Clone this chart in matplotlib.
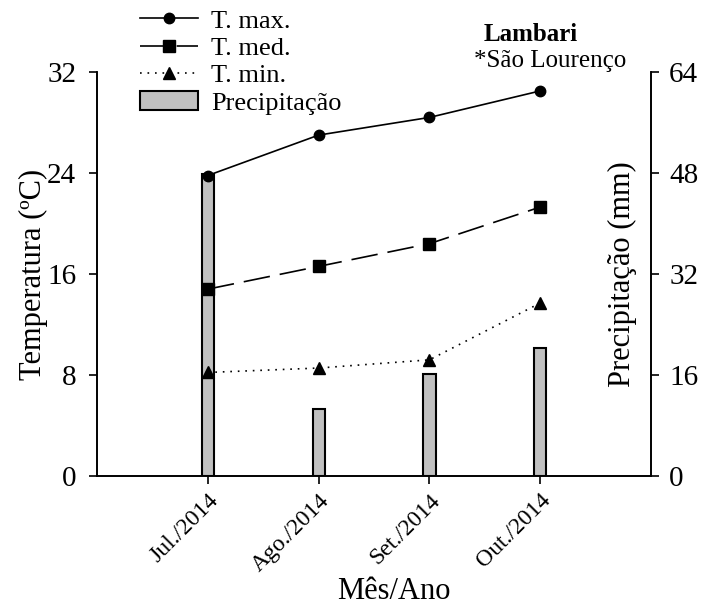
import numpy as np
import matplotlib
matplotlib.use("Agg")
from matplotlib import pyplot as plt

plt.rcParams['font.family'] = ['Liberation Serif', 'DejaVu Serif']

# data
meses = ['Jul./2014', 'Ago./2014', 'Set./2014', 'Out./2014']
t_max = [23.8, 27.0, 28.4, 30.5]
t_med = [14.8, 16.6, 18.4, 21.3]
t_min = [8.2, 8.55, 9.2, 13.7]
precip = [47.8, 10.6, 16.2, 20.3]

x = np.arange(len(meses))

fig = plt.figure(figsize=(7.01, 6.10), dpi=100)
ax = fig.add_axes([0.1384, 0.2197, 0.7903, 0.6623])
ax2 = ax.twinx()

# bars behind the lines
barras = ax2.bar(x, precip, width=0.11, color='#c0c0c0', edgecolor='black',
                 linewidth=1.5, label='Precipitação')
ax.set_zorder(ax2.get_zorder() + 1)
ax.patch.set_visible(False)

l1, = ax.plot(x, t_max, '-', color='black', marker='o', markersize=7.5, lw=1.2, label='T. max.')
l2, = ax.plot(x, t_med, color='black', marker='s', markersize=8, lw=1.2,
              dashes=(16, 6), label='T. med.')
l3, = ax.plot(x, t_min, color='black', marker='^', markersize=8, lw=1.2,
              dashes=(1, 3.5), label='T. min.')

ax.set_xlim(-1.0, 4.0)
ax.set_ylim(0, 32)
ax.set_yticks([0, 8, 16, 24, 32])
ax2.set_ylim(0, 64)
ax2.set_yticks([0, 16, 32, 48, 64])

for a in (ax, ax2):
    a.spines['top'].set_visible(False)
    for s in a.spines.values():
        s.set_linewidth(1.2)
    a.tick_params(direction='out', length=6, width=1.2, labelsize=21)
ax.tick_params(axis='y', pad=9)
ax2.tick_params(axis='y', pad=7)

ax.set_xticks(x)
ax.set_xticklabels(meses, rotation=45, ha='right', rotation_mode='anchor', fontsize=17)
ax.tick_params(axis='x', pad=4)

ax.set_ylabel('Temperatura (ºC)', fontsize=22, ha='center', va='center')
ax.yaxis.set_label_coords(-0.115, 0.5)
ax.set_xlabel('Mês/Ano', fontsize=22, ha='center', va='center')
ax.xaxis.set_label_coords(0.535, -0.285)
ax2.set_ylabel('Precipitação (mm)', fontsize=22, ha='center', va='center')
ax2.yaxis.set_label_coords(0.948, 0.5)

fig.text(0.690, 0.944, 'Lambari', fontsize=18, fontweight='bold', va='center')
fig.text(0.676, 0.900, '*São Lourenço', fontsize=18, va='center')

fig.legend(handles=[l1, l2, l3, barras], loc='upper left',
           bbox_to_anchor=(0.2, 0.985), frameon=False, fontsize=19,
           handlelength=2.2, handletextpad=0.5, labelspacing=0.15,
           borderpad=0, borderaxespad=0)

fig.savefig('out.png', dpi=100)
